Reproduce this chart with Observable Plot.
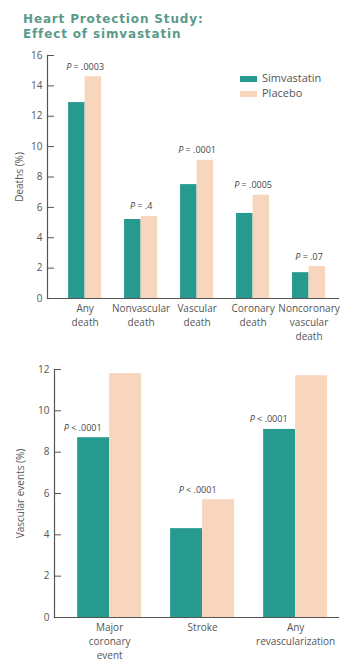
<!DOCTYPE html>
<html><head><meta charset="utf-8">
<script src="https://cdn.jsdelivr.net/npm/d3@7"></script>
<script src="https://cdn.jsdelivr.net/npm/@observablehq/plot@0.6"></script>
<style>
body{margin:0;background:#fff;}
#root{position:relative;width:362px;height:668px;overflow:hidden;font-family:"Open Sans",sans-serif;}
#title{position:absolute;left:23px;top:12px;font-family:"DejaVu Sans",sans-serif;font-weight:bold;font-size:12px;letter-spacing:0.85px;line-height:15px;color:#5b9a8b;}
.chart{position:absolute;left:0;width:362px;}
.chart svg{position:absolute;left:0;top:0;max-width:none !important;}
#legend{position:absolute;left:240px;top:70px;font-size:11px;color:#555;line-height:15px;}
.sw{display:inline-block;width:17px;height:6px;margin-right:5px;vertical-align:middle;}
</style></head>
<body><div id="root">
<div id="title">Heart Protection Study:<br>Effect of simvastatin</div>
<div id="c1" class="chart" style="top:45px;height:300px"></div>
<div id="c2" class="chart" style="top:350px;height:318px"></div>
<div id="legend"></div>
</div>
<script>
const series = ["Simvastatin", "Placebo"];
const seriesColors = ["#279a90", "#f8d5bd"];

const deathCategories = ["Any\ndeath", "Nonvascular\ndeath", "Vascular\ndeath", "Coronary\ndeath", "Noncoronary\nvascular\ndeath"];
const deathSimvastatin = [12.9, 5.2, 7.5, 5.6, 1.7];
const deathPlacebo = [14.6, 5.4, 9.1, 6.8, 2.1];
const deathP = ["P = .0003", "P = .4", "P = .0001", "P = .0005", "P = .07"];
const deathTicks = [0, 2, 4, 6, 8, 10, 12, 14, 16];

const eventCategories = ["Major\ncoronary\nevent", "Stroke", "Any\nrevascularization"];
const eventSimvastatin = [8.7, 4.3, 9.1];
const eventPlacebo = [11.8, 5.7, 11.7];
const eventP = ["P < .0001", "P < .0001", "P < .0001"];
const eventPAbove = ["Simvastatin", "Placebo", "Simvastatin"];
const eventTicks = [0, 2, 4, 6, 8, 10, 12];

function rowsOf(cats, simv, plac) {
  return cats.flatMap((c, i) => [
    {cat: c, series: series[0], value: simv[i]},
    {cat: c, series: series[1], value: plac[i]}
  ]);
}

function italicP(svg) {
  const ns = "http://www.w3.org/2000/svg";
  svg.querySelectorAll('g[aria-label="text"] text').forEach(t => {
    const s = t.textContent;
    if (s.startsWith("P")) {
      t.textContent = "";
      const a = document.createElementNS(ns, "tspan");
      a.setAttribute("font-style", "italic");
      a.textContent = "P";
      t.append(a, s.slice(1));
    }
  });
}

const baseStyle = {fontFamily: "Open Sans, sans-serif", fontSize: "10px", color: "#555", background: "transparent", maxWidth: "none"};

function drawChart(el, o) {
  const dims = {width: 362, height: o.height, marginTop: o.marginTop, marginBottom: o.marginBottom, marginLeft: o.marginLeft, marginRight: o.marginRight};
  // Bars, p-values and category labels (faceted by category)
  const bars = Plot.plot({
    ...dims,
    style: baseStyle,
    axis: null,
    x: {domain: series, padding: 0, round: false},
    color: {domain: series, range: seriesColors},
    fx: {domain: o.cats, paddingInner: o.padInner, paddingOuter: o.padOuter, align: o.align, round: false},
    y: {domain: [0, o.yMax]},
    marks: [
      Plot.barY(o.rows, {fx: "cat", x: "series", y: "value", fill: "series"}),
      ...o.labelMarks,
      Plot.axisFx({anchor: "bottom", tickSize: 0, tickPadding: 4, lineHeight: 1.4, fontSize: 10, label: null, fill: "#555"})
    ]
  });
  italicP(bars);
  // Value axis and axis lines over the whole frame
  const axes = Plot.plot({
    ...dims,
    style: baseStyle,
    y: {domain: [0, o.yMax]},
    marks: [
      Plot.axisY({ticks: o.ticks, tickFormat: d => d, tickSize: -7, tickPadding: 12, label: o.label, labelAnchor: "center", labelArrow: false, labelOffset: o.labelOffset, stroke: "#555", fill: "#555"}),
      Plot.frame({anchor: "left", stroke: "#555", strokeWidth: 1.2}),
      Plot.frame({anchor: "bottom", stroke: "#555", strokeWidth: 1.2})
    ]
  });
  el.append(bars, axes);
}

// Top chart
const deathLabels = deathCategories.map((c, i) => ({cat: c, value: Math.max(deathSimvastatin[i], deathPlacebo[i]), text: deathP[i]}));
drawChart(document.getElementById("c1"), {
  height: 300, marginTop: 10, marginBottom: 47, marginLeft: 47, marginRight: 24,
  cats: deathCategories, padInner: 0.41, padOuter: 0.304, align: 0.62,
  yMax: 16, ticks: deathTicks, label: "Deaths (%)", labelOffset: 32,
  rows: rowsOf(deathCategories, deathSimvastatin, deathPlacebo),
  labelMarks: [
    Plot.text(deathLabels, {fx: "cat", y: "value", text: "text", dy: -7, lineAnchor: "bottom", fontSize: 9, fill: "#444"})
  ]
});

// Bottom chart
const eventLabels = eventCategories.map((c, i) => ({cat: c, above: eventPAbove[i], value: eventPAbove[i] === series[0] ? eventSimvastatin[i] : eventPlacebo[i], text: eventP[i]}));
drawChart(document.getElementById("c2"), {
  height: 318, marginTop: 19, marginBottom: 51, marginLeft: 54, marginRight: 24,
  cats: eventCategories, padInner: 0.312, padOuter: 0.183, align: 0.68,
  yMax: 12, ticks: eventTicks, label: "Vascular events (%)", labelOffset: 38,
  rows: rowsOf(eventCategories, eventSimvastatin, eventPlacebo),
  labelMarks: [
    Plot.text(eventLabels.filter(d => d.above === series[0]), {fx: "cat", x: "above", y: "value", text: "text", dx: -11, dy: -7, lineAnchor: "bottom", fontSize: 9, fill: "#444"}),
    Plot.text(eventLabels.filter(d => d.above !== series[0]), {fx: "cat", y: "value", text: "text", dx: -5, dy: -7, lineAnchor: "bottom", fontSize: 9, fill: "#444"})
  ]
});

// Legend
const lg = document.getElementById("legend");
series.forEach((s, i) => {
  const row = document.createElement("div");
  const sw = document.createElement("span");
  sw.className = "sw";
  sw.style.background = seriesColors[i];
  row.append(sw, document.createTextNode(s));
  lg.append(row);
});
</script>
</body></html>
